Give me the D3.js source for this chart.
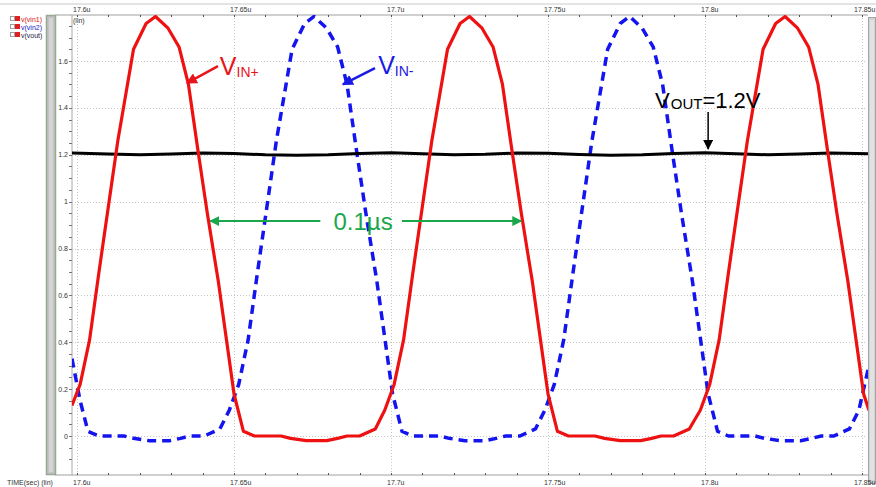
<!DOCTYPE html>
<html>
<head>
<meta charset="utf-8">
<script src="https://cdn.jsdelivr.net/npm/d3@7"></script>
<style>
  body { margin: 0; background: #ffffff; }
  svg { display: block; }
</style>
</head>
<body>
<div id="chart"></div>
<script>
// sample times are ns after 17.6us
const vin1Time = [-1.6, 1, 4, 7, 10, 13, 18, 22, 25, 29, 32.5, 35.5, 38.5, 41.5, 45, 47.5, 50, 53, 56.5,
  65, 68, 73, 79.5, 83, 86, 90, 95, 98, 101, 104, 107, 110, 113, 118, 122, 125, 129, 132.5, 135.5, 138.5,
  141.5, 145, 147.5, 150, 153, 156.5, 165, 168, 173, 179.5, 183, 186, 190, 195, 198.5, 201.5, 204.5, 207.5,
  210.5, 213.5, 218.5, 222.5, 225.5, 229.5, 233, 236, 239, 242, 245.5, 248, 250.5, 252.2];
const vin1Values = [0.13, 0.22, 0.41, 0.70, 0.98, 1.26, 1.65, 1.76, 1.79, 1.74, 1.66, 1.50, 1.22, 0.95, 0.66, 0.42, 0.18, 0.02, 0.00,
  0.00, -0.01, -0.02, -0.02, -0.01, 0.00, 0.00, 0.03, 0.11, 0.22, 0.41, 0.70, 0.98, 1.26, 1.65, 1.76, 1.79, 1.74, 1.66, 1.50, 1.22,
  0.95, 0.66, 0.42, 0.18, 0.02, 0.00, 0.00, -0.01, -0.02, -0.02, -0.01, 0.00, 0.00, 0.03, 0.11, 0.22, 0.41, 0.70,
  0.98, 1.26, 1.65, 1.76, 1.79, 1.74, 1.66, 1.50, 1.22, 0.95, 0.66, 0.42, 0.18, 0.11];

const vin2Time = [-1.6, 1, 3.5, 7, 15, 18, 23, 29.5, 33, 36, 40.5, 45.5, 48.5, 51.5, 54.5, 57.5, 60.5, 63.5,
  68.5, 72.5, 75.5, 79.5, 83, 86, 89, 92, 95.5, 98, 100.5, 103.5, 107, 115.5, 118.5, 123.5, 130, 133.5, 136.5,
  141, 146, 149, 152, 155, 158, 161, 164, 169, 173, 176, 180, 183.5, 186.5, 189.5, 192.5, 196, 198.5, 201,
  204, 207.5, 216, 219, 224, 230.5, 234, 237, 241, 246, 249, 252.2];
const vin2Values = [0.33, 0.15, 0.02, 0.00, 0.00, -0.01, -0.02, -0.02, -0.01, 0.00, 0.00, 0.03, 0.11, 0.22, 0.41, 0.70, 0.98, 1.26,
  1.65, 1.76, 1.79, 1.74, 1.66, 1.50, 1.22, 0.95, 0.66, 0.42, 0.18, 0.02, 0.00, 0.00, -0.01, -0.02, -0.02, -0.01, 0.00,
  0.00, 0.03, 0.11, 0.22, 0.41, 0.70, 0.98, 1.26, 1.65, 1.76, 1.79, 1.74, 1.66, 1.50, 1.22, 0.95, 0.66, 0.42, 0.18,
  0.02, 0.00, 0.00, -0.01, -0.02, -0.02, -0.01, 0.00, 0.00, 0.03, 0.11, 0.30];

const voutTime = [-1.6, 10, 20, 30, 40, 50, 60, 70, 80, 90, 100, 110, 120, 130, 140, 150, 160, 170, 180, 190, 200, 210, 220, 230, 240, 252.2];
const voutValues = [1.207, 1.203, 1.200, 1.203, 1.207, 1.205, 1.200, 1.198, 1.200, 1.205, 1.208, 1.204, 1.200, 1.202, 1.207,
  1.206, 1.201, 1.198, 1.200, 1.205, 1.208, 1.204, 1.200, 1.203, 1.207, 1.204];

const xTicks = [17.6, 17.65, 17.7, 17.75, 17.8, 17.85];
const xTickLabels = ["17.6u", "17.65u", "17.7u", "17.75u", "17.8u", "17.85u"];
const yTicks = [0, 0.2, 0.4, 0.6, 0.8, 1, 1.2, 1.4, 1.6];
const yTickLabels = ["0", "0.2", "0.4", "0.6", "0.8", "1", "1.2", "1.4", "1.6"];
const legendNames = ["v(vin1)", "v(vin2)", "v(vout)"];

var W = 876, H = 487;
var plot = { left: 72, right: 869, top: 15, bottom: 475 };
var font = "'Liberation Sans', Arial, sans-serif";

var x = d3.scaleLinear().domain([17.6, 17.85]).range([77, 862]);
var y = d3.scaleLinear().domain([0, 1.6]).range([436, 61]);
var tx = function (ns) { return x(17.6 + ns / 1000); };

var svg = d3.select("#chart").append("svg")
  .attr("width", W).attr("height", H)
  .style("background-color", "#ffffff");

var defs = svg.append("defs");
defs.append("clipPath").attr("id", "plotclip").append("rect")
  .attr("x", plot.left).attr("y", plot.top)
  .attr("width", plot.right - plot.left).attr("height", plot.bottom - plot.top);

function marker(id, color, size) {
  defs.append("marker").attr("id", id)
    .attr("viewBox", "0 0 10 10").attr("refX", 9).attr("refY", 5)
    .attr("markerWidth", size).attr("markerHeight", size)
    .attr("markerUnits", "userSpaceOnUse")
    .attr("orient", "auto-start-reverse")
    .append("path").attr("d", "M0,0 L10,5 L0,10 z").attr("fill", color);
}
marker("arrRed", "#e8141b", 11);
marker("arrBlue", "#1a1ae6", 11);
marker("arrBlack", "#000000", 10);
marker("arrGreen", "#1aa64b", 10);

// frame lines
svg.append("line").attr("x1", 0).attr("x2", W).attr("y1", 4).attr("y2", 4)
  .attr("stroke", "#c8c8c8").attr("stroke-width", 1);
svg.append("line").attr("x1", 55).attr("x2", 868).attr("y1", plot.top).attr("y2", plot.top)
  .attr("stroke", "#a0a0a0");
svg.append("line").attr("x1", 55).attr("x2", 868).attr("y1", plot.bottom).attr("y2", plot.bottom)
  .attr("stroke", "#a0a0a0");
svg.append("line").attr("x1", plot.left).attr("x2", plot.left).attr("y1", plot.top).attr("y2", plot.bottom)
  .attr("stroke", "#a8a8a8");

// grid
var grid = svg.append("g").attr("stroke", "#c4c4c4").attr("stroke-width", 1).attr("stroke-dasharray", "1,2");
yTicks.forEach(function (v) {
  grid.append("line").attr("x1", plot.left).attr("x2", plot.right - 2)
    .attr("y1", Math.round(y(v)) + 0.5).attr("y2", Math.round(y(v)) + 0.5);
});
xTicks.forEach(function (t) {
  grid.append("line").attr("y1", plot.top).attr("y2", plot.bottom)
    .attr("x1", Math.round(x(t)) + 0.5).attr("x2", Math.round(x(t)) + 0.5);
});

// minor ticks on time axes
var minor = d3.range(0, 26).map(function (i) { return 17.6 + i * 0.01; });
minor.forEach(function (t) {
  var px = Math.round(x(t)) + 0.5;
  svg.append("line").attr("x1", px).attr("x2", px).attr("y1", plot.top).attr("y2", plot.top + 2)
    .attr("stroke", "#555");
  svg.append("line").attr("x1", px).attr("x2", px).attr("y1", plot.bottom - 2).attr("y2", plot.bottom)
    .attr("stroke", "#555");
});

svg.append("text").attr("x", 7).attr("y", 485)
  .attr("font-family", font).attr("font-size", 7).attr("fill", "#333")
  .text("TIME(sec) (lin)");
svg.append("text").attr("x", 73).attr("y", 23)
  .attr("font-family", font).attr("font-size", 7).attr("fill", "#333")
  .text("(lin)");

// y labels and ticks
yTicks.forEach(function (v, i) {
  svg.append("text").attr("x", 68).attr("y", y(v) + 2.5)
    .attr("text-anchor", "end")
    .attr("font-family", font).attr("font-size", 7).attr("fill", "#333")
    .text(yTickLabels[i]);
});
d3.range(-2, 38).map(function (i) { return i * 0.05; }).forEach(function (v) {
  var py = Math.round(y(v)) + 0.5;
  if (py < plot.top || py > plot.bottom) return;
  svg.append("line").attr("x1", 69).attr("x2", plot.left).attr("y1", py).attr("y2", py)
    .attr("stroke", "#777");
});

// waveforms
var line = d3.line()
  .x(function (d) { return tx(d[0]); })
  .y(function (d) { return y(d[1]); });

var traces = svg.append("g").attr("clip-path", "url(#plotclip)");

traces.append("path")
  .attr("d", line(vin2Time.map(function (t, i) { return [t, vin2Values[i]]; })))
  .attr("fill", "none").attr("stroke", "#1414ee").attr("stroke-width", 3.5)
  .attr("stroke-dasharray", "9,6");

traces.append("path")
  .attr("d", line(voutTime.map(function (t, i) { return [t, voutValues[i]]; })))
  .attr("fill", "none").attr("stroke", "#000").attr("stroke-width", 3);

traces.append("path")
  .attr("d", line(vin1Time.map(function (t, i) { return [t, vin1Values[i]]; })))
  .attr("fill", "none").attr("stroke", "#ee1111").attr("stroke-width", 3.2)
  .attr("stroke-linejoin", "round");

// annotations
function arrow(t1, v1, t2, v2, color, id, w) {
  svg.append("line")
    .attr("x1", tx(t1)).attr("y1", y(v1)).attr("x2", tx(t2)).attr("y2", y(v2))
    .attr("stroke", color).attr("stroke-width", w)
    .attr("marker-end", "url(#" + id + ")");
}

// V_IN+
var tIn = svg.append("text").attr("x", tx(45.5)).attr("y", y(1.54))
  .attr("font-family", font).attr("fill", "#e8141b");
tIn.append("tspan").attr("font-size", 25).text("V");
tIn.append("tspan").attr("font-size", 14).attr("dy", 2).text("IN+");
arrow(44.9, 1.578, 35.0, 1.506, "#e8141b", "arrRed", 2.5);

// V_IN-
var tInm = svg.append("text").attr("x", tx(95.9)).attr("y", y(1.544))
  .attr("font-family", font).attr("fill", "#1a1ae6");
tInm.append("tspan").attr("font-size", 25).text("V");
tInm.append("tspan").attr("font-size", 14).attr("dy", 2).text("IN-");
arrow(94.9, 1.57, 84.7, 1.50, "#1a1ae6", "arrBlue", 2.5);

// V_OUT
var tOut = svg.append("text").attr("x", tx(184.1)).attr("y", y(1.40))
  .attr("font-family", font).attr("fill", "#000");
tOut.append("tspan").attr("font-size", 22).text("V");
tOut.append("tspan").attr("font-size", 15).attr("dx", 1).attr("dy", 1).text("OUT");
tOut.append("tspan").attr("font-size", 22).attr("dy", -1).text("=1.2V");
arrow(201, 1.382, 201, 1.225, "#000", "arrBlack", 1.5);

// period marker
svg.append("text").attr("x", tx(91.1)).attr("y", y(0.917) + 8.5)
  .attr("text-anchor", "middle")
  .attr("font-family", font).attr("font-size", 24).attr("fill", "#1aa64b")
  .text("0.1\u00b5s");
arrow(77.5, 0.917, 42.4, 0.917, "#1aa64b", "arrGreen", 2);
arrow(103.5, 0.917, 141.5, 0.917, "#1aa64b", "arrGreen", 2);

// signal list on the left
var legendColors = ["#e01010", "#2020c8", "#222244"];
legendNames.forEach(function (name, i) {
  var ly = 19 + i * 8;
  svg.append("rect").attr("x", 10.5).attr("y", ly - 2.5).attr("width", 4).attr("height", 4)
    .attr("fill", "#fff").attr("stroke", "#888").attr("stroke-width", 0.8);
  svg.append("rect").attr("x", 15).attr("y", ly - 3).attr("width", 5).attr("height", 5)
    .attr("fill", "#e02020");
  svg.append("text").attr("x", 21).attr("y", ly + 2.5)
    .attr("font-family", font).attr("font-size", 7).attr("fill", legendColors[i])
    .text(name);
});

// scroll bars
svg.append("rect").attr("x", 46.5).attr("y", 15.5).attr("width", 9).attr("height", 459)
  .attr("fill", "#c2c2c2").attr("stroke", "#98a894").attr("stroke-width", 1.5);
svg.append("rect").attr("x", 49).attr("y", 18).attr("width", 4).attr("height", 454)
  .attr("fill", "#d4d4d4");
svg.append("rect").attr("x", 868.5).attr("y", 17.5).attr("width", 7).attr("height", 466)
  .attr("fill", "#d2d2d2").attr("stroke", "#a4a4a4");
svg.append("rect").attr("x", 870).attr("y", 20).attr("width", 4).attr("height", 460)
  .attr("fill", "#e2e2e2");

// time labels top and bottom (last one pulled left to stay inside the window)
xTicks.forEach(function (t, i) {
  var lx = i === xTicks.length - 1 ? x(t) - 8 : x(t) - 4;
  svg.append("text").attr("x", lx).attr("y", 12)
    .attr("font-family", font).attr("font-size", 7).attr("fill", "#333")
    .text(xTickLabels[i]);
  svg.append("text").attr("x", lx).attr("y", 485)
    .attr("font-family", font).attr("font-size", 7).attr("fill", "#333")
    .text(xTickLabels[i]);
});
</script>
</body>
</html>
